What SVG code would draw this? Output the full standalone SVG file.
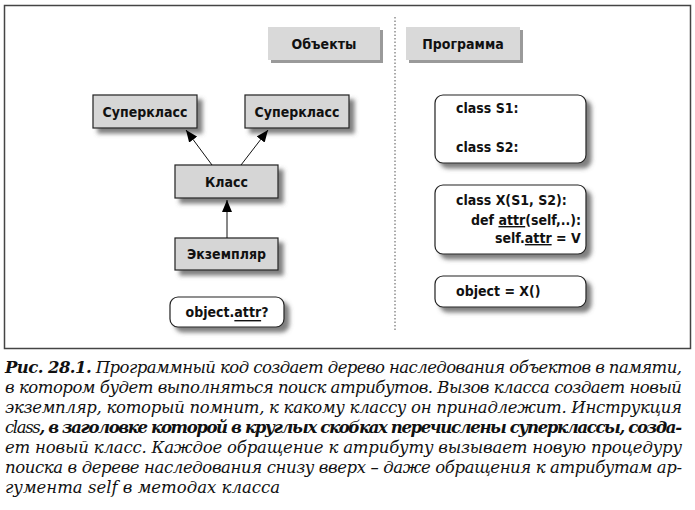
<svg xmlns="http://www.w3.org/2000/svg" width="695" height="510" viewBox="0 0 695 510">
<defs>
<filter id="sh" x="-20%" y="-40%" width="160%" height="200%">
<feGaussianBlur in="SourceAlpha" stdDeviation="2.2"/>
<feOffset dx="5" dy="5" result="b"/>
<feFlood flood-color="#555" flood-opacity="0.75"/>
<feComposite in2="b" operator="in"/>
<feMerge><feMergeNode/><feMergeNode in="SourceGraphic"/></feMerge>
</filter>
<marker id="ah" viewBox="0 0 12 10" refX="12" refY="5" markerWidth="12" markerHeight="10" markerUnits="userSpaceOnUse" orient="auto">
<path d="M0,0 L12,5 L0,10 z" fill="#000"/>
</marker>
<style>
.n{fill:#d6d6d6;stroke:#222;stroke-width:1.2}
.r{fill:#fff;stroke:#222;stroke-width:1.2}
.lb{fill:#d9d9d9}
.lbs{fill:#9a9a9a}
.t{font-family:"Liberation Sans Narrow","DejaVu Sans Condensed","Liberation Sans",sans-serif;font-weight:bold;font-size:14px;fill:#111}
.c{text-anchor:middle;dominant-baseline:central}
.cap{font-family:"DejaVu Serif","Liberation Serif",serif;font-style:italic;font-size:16.5px;fill:#111}
.con{stroke:#111;stroke-width:1;fill:none}
</style>
</defs>
<rect x="4.5" y="5.5" width="686" height="343" fill="#fff" stroke="#444" stroke-width="1.5"/>
<line x1="395" y1="17" x2="395" y2="332" stroke="#555" stroke-width="1" stroke-dasharray="1.5,2"/>

<g id="label-objects">
<rect class="lbs" x="271" y="30" width="112" height="33"/>
<rect class="lb" x="268" y="27" width="112" height="33"/>
<text class="t c" x="324" y="44">Объекты</text>
</g>
<g id="label-program">
<rect class="lbs" x="409" y="30" width="114" height="33"/>
<rect class="lb" x="406" y="27" width="114" height="33"/>
<text class="t c" x="463" y="44">Программа</text>
</g>

<g id="superclass1">
<rect class="n" x="93" y="95" width="104" height="33" filter="url(#sh)"/>
<text class="t c" x="145" y="111.5">Суперкласс</text>
</g>
<g id="superclass2">
<rect class="n" x="245" y="95" width="104" height="33" filter="url(#sh)"/>
<text class="t c" x="297" y="111.5">Суперкласс</text>
</g>
<g id="class">
<rect class="n" x="175" y="165" width="103" height="33" filter="url(#sh)"/>
<text class="t c" x="226.5" y="181.5">Класс</text>
</g>
<g id="instance">
<rect class="n" x="175" y="238" width="103" height="32" filter="url(#sh)"/>
<text class="t c" x="226.5" y="254">Экземпляр</text>
</g>
<g id="objattr">
<rect class="r" x="170" y="297" width="114" height="30" rx="8" filter="url(#sh)"/>
<text class="t c" x="227" y="312">object.<tspan text-decoration="underline">attr</tspan>?</text>
</g>

<g id="code-s">
<rect class="r" x="435" y="95" width="151" height="68" rx="8" filter="url(#sh)"/>
<text class="t" x="456" y="113">class S1:</text>
<text class="t" x="456" y="152">class S2:</text>
</g>
<g id="code-x">
<rect class="r" x="435" y="185" width="151" height="69" rx="8" filter="url(#sh)"/>
<text class="t" x="456" y="205">class X(S1, S2):</text>
<text class="t" x="471" y="225">def <tspan text-decoration="underline">attr</tspan>(self,..):</text>
<text class="t" x="495" y="243">self.<tspan text-decoration="underline">attr</tspan> = V</text>
</g>
<g id="code-obj">
<rect class="r" x="435" y="276" width="151" height="31" rx="8" filter="url(#sh)"/>
<text class="t" x="456" y="296">object = X()</text>
</g>

<g id="connectors">
<line class="con" x1="212" y1="165" x2="186" y2="130" marker-end="url(#ah)"/>
<line class="con" x1="241" y1="165" x2="268" y2="130" marker-end="url(#ah)"/>
<line class="con" x1="227" y1="238" x2="227" y2="200" marker-end="url(#ah)"/>
</g>

<g id="caption">
<text class="cap" x="5" y="373" textLength="677" lengthAdjust="spacing"><tspan font-weight="bold">Рис. 28.1.</tspan> Программный код создает дерево наследования объектов в памяти,</text>
<text class="cap" x="5" y="393" textLength="677" lengthAdjust="spacing">в котором будет выполняться поиск атрибутов. Вызов класса создает новый</text>
<text class="cap" x="5" y="413" textLength="677" lengthAdjust="spacing">экземпляр, который помнит, к какому классу он принадлежит. Инструкция</text>
<text class="cap" x="5" y="433" textLength="677" lengthAdjust="spacing">class<tspan font-weight="bold">, в заголовке которой в круглых скобках перечислены суперклассы, созда-</tspan></text>
<text class="cap" x="5" y="453" textLength="677" lengthAdjust="spacing">ет новый класс. Каждое обращение к атрибуту вызывает новую процедуру</text>
<text class="cap" x="5" y="473" textLength="677" lengthAdjust="spacing">поиска в дереве наследования снизу вверх – даже обращения к атрибутам ар-</text>
<text class="cap" x="5" y="493">гумента self в методах класса</text>
</g>
</svg>
